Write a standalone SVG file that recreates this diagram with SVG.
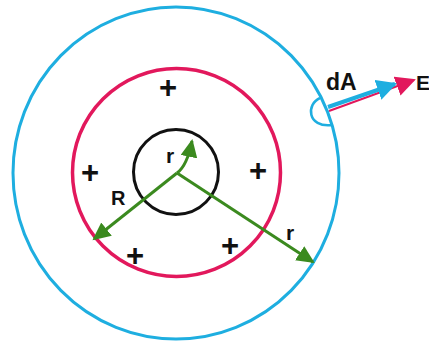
<svg xmlns="http://www.w3.org/2000/svg" width="429" height="345" viewBox="0 0 429 345">
<style>
.lbl{font-family:"Liberation Sans",Arial,sans-serif;font-weight:bold;fill:#111;}
.plus{font-family:"Liberation Sans",Arial,sans-serif;font-weight:bold;font-size:31px;fill:#111;text-anchor:middle;}
.g{stroke:#3b8a1f;stroke-width:3;fill:none;}
</style>
<defs>
<marker id="ag" markerUnits="userSpaceOnUse" markerWidth="20" markerHeight="18" refX="16" refY="8.5" orient="auto"><path d="M0,0 L18,8.5 L0,17 z" fill="#3b8a1f"/></marker>
<marker id="ab" markerUnits="userSpaceOnUse" markerWidth="22" markerHeight="22" refX="18" refY="10.5" orient="auto"><path d="M0,0 L20,10.5 L0,21 z" fill="#1eaee0"/></marker>
<marker id="ar" markerUnits="userSpaceOnUse" markerWidth="22" markerHeight="22" refX="18" refY="10" orient="auto"><path d="M0,0 L20,10 L0,20 z" fill="#e2185c"/></marker>
</defs>
<rect width="429" height="345" fill="#fff"/>
<g id="gaussian-surface"><ellipse cx="176" cy="173" rx="163" ry="166" fill="none" stroke="#1eaee0" stroke-width="3"/></g>
<g id="charged-shell"><circle cx="176.5" cy="172.5" r="104" fill="none" stroke="#e2185c" stroke-width="3.5"/></g>
<g id="inner-surface"><circle cx="176" cy="172" r="42.5" fill="none" stroke="#111" stroke-width="3"/></g>
<g id="charges">
<text class="plus" x="168" y="98">+</text>
<text class="plus" x="90" y="183">+</text>
<text class="plus" x="258" y="181">+</text>
<text class="plus" x="135" y="266">+</text>
<text class="plus" x="230" y="256">+</text>
</g>
<g id="area-element"><path d="M320,98 C306,104 307,128 332,125" fill="none" stroke="#1eaee0" stroke-width="2.5"/></g>
<g id="connectors">
<path class="g" d="M177,173 Q187,166 192,141" marker-end="url(#ag)"/>
<line class="g" x1="177" y1="173" x2="94" y2="239" marker-end="url(#ag)"/>
<line class="g" x1="177" y1="173" x2="313" y2="262" marker-end="url(#ag)"/>
<line x1="329" y1="111" x2="414" y2="80" stroke="#e2185c" stroke-width="2" marker-end="url(#ar)"/>
<line x1="328" y1="107" x2="395" y2="84" stroke="#1eaee0" stroke-width="4" marker-end="url(#ab)"/>
</g>
<g id="labels">
<text class="lbl" x="166" y="163" font-size="21">r</text>
<text class="lbl" x="111" y="205" font-size="20">R</text>
<text class="lbl" x="286" y="240" font-size="21">r</text>
<text class="lbl" x="326" y="90" font-size="23">dA</text>
<text class="lbl" x="416" y="90" font-size="21">E</text>
</g>
</svg>
